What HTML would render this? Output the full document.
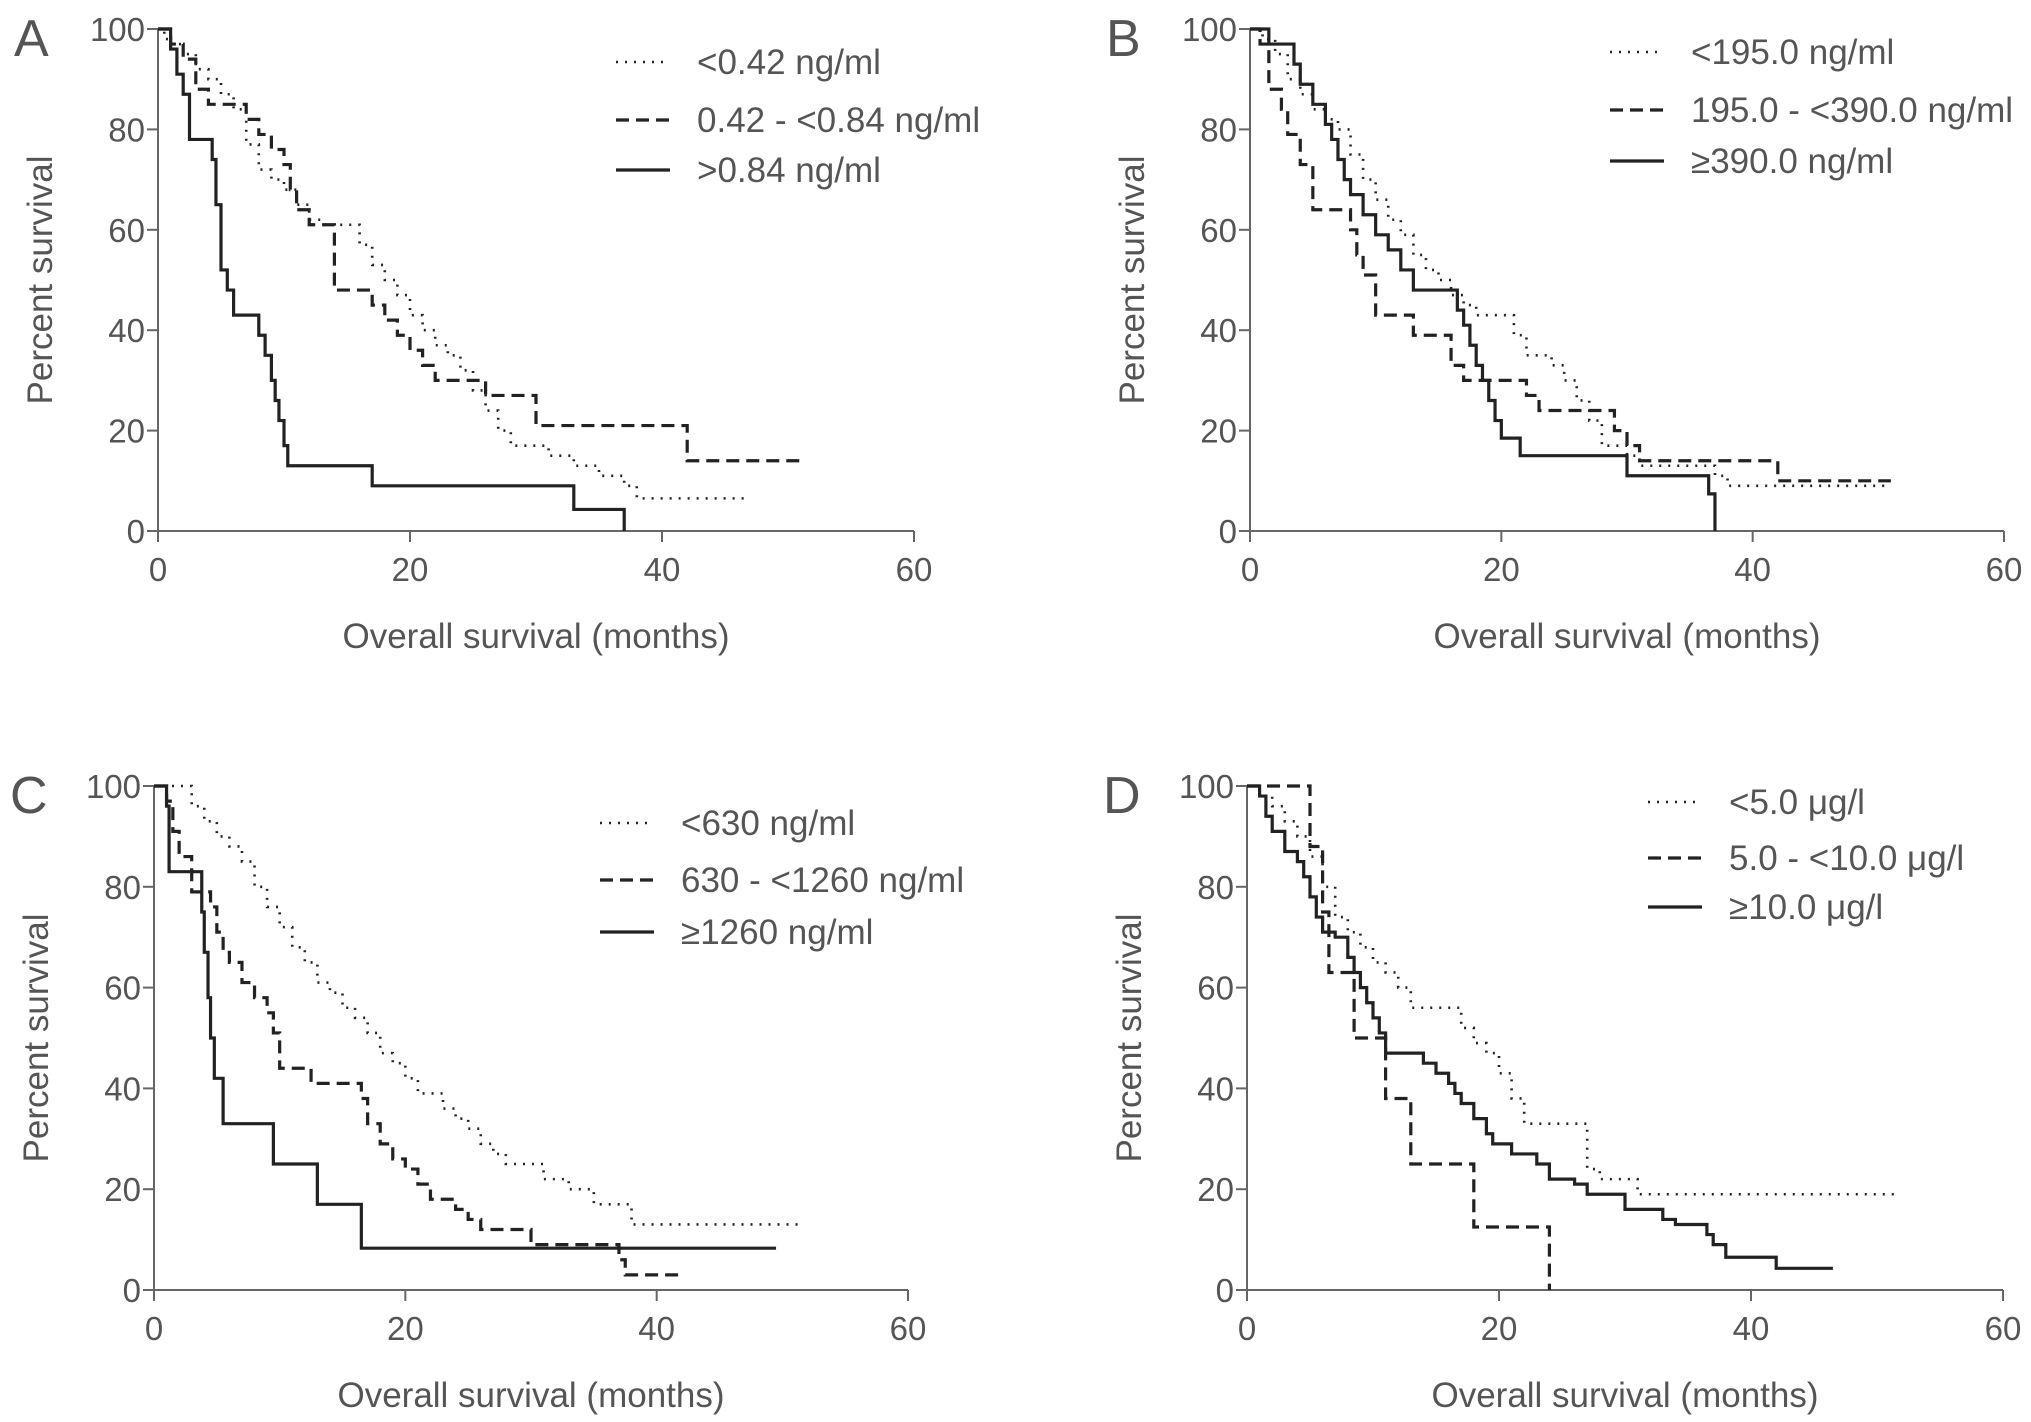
<!DOCTYPE html>
<html><head><meta charset="utf-8"><style>
html,body{margin:0;padding:0;background:#fff}
svg{display:block}
text{font-family:"Liberation Sans",sans-serif;fill:#555}
</style></head><body>
<svg id="fig" width="2031" height="1422" viewBox="0 0 2031 1422" xmlns="http://www.w3.org/2000/svg"></svg>
<script>
const xTicks=[0,20,40,60];
const yTicks=[0,20,40,60,80,100];
// Panel A
const aDotT=[0,0.5,1,2,3,4,5,6,7,8,9,10,11,12,13,15,16,17,18,19,20,21,22,23,24,25,26,27,28,30,31,33,35,37,38,47];
const aDotS=[100,98,97,95,92,90,87,84,77,72,70,68,65,62,61,61,57,53,50,47,43,40,37,35,32,28,24,20,17,17,15,13,11,9,6.5,6.5];
const aDashT=[0,1,2,3,4,6,7,8,9,10,10.5,11,12,14,16,17,18,19,20,21,22,24,26,29,30,42,51];
const aDashS=[100,97,94,88,85,85,82,79,76,73,68,64,61,48,48,45,42,39,36,33,30,30,27,27,21,14,14];
const aSolT=[0,1,1.5,2,2.5,4.3,4.6,5,5.5,6,8,8.5,9,9.3,9.6,10,10.3,17,33,37];
const aSolS=[100,96,91,87,78,74,65,52,48,43,39,35,30,26,22,17,13,9,4.3,0];
// Panel B
const bDotT=[0,1,2,3,4,5,6,7,8,9,10,11,12,13,14,15,16,17,18,20,21,22,24,25,26,27,28,30,31,37,38,51];
const bDotS=[100,98,95,90,87,84,82,80,75,70,66,62,59,55,52,50,47,45,43,43,39,35,33,30,26,22,17,15,13,11,9,9];
const bDashT=[0,0.8,1.5,2.5,3,4,5,8,8.5,9,10,13,16,17,22,23,29,30,31,42,51];
const bDashS=[100,97,88,84,79,73,64,60,55,51,43,39,33,30,27,24,20,17,14,10,10];
const bSolT=[0,1.5,3.5,4,5,6,6.5,7,7.5,8,9,10,11,12,13,16.5,17,17.5,18,18.5,19,19.5,20,21.5,30,36.5,37];
const bSolS=[100,97,93,89,85,81,78,74,70,67,63,59,56,52,48,44,41,37,33,30,26,22,18.5,15,11,7.4,0];
// Panel C
const cDotT=[0,2,3,4,5,6,7,8,9,10,11,12,13,14,15,16,17,18,19,20,21,23,24,25,26,27,28,30,31,33,35,37,38,51.5];
const cDotS=[100,100,96,93,90,88,85,80,76,72,68,65,61,59,56,54,51,47,45,42,39,36,34,32,29,27,25,25,22,20,17,17,13,13];
const cDashT=[0,1,1.5,2,3,4.5,5,5.5,6,7,8,9,9.5,10,12,12.5,16.5,17,18,19,20,21,22,24,25,26,27,30,37,37.5,42];
const cDashS=[100,97,91,86,79,76,71,67,65,61,58,55,51,44,44,41,38,33,29,26,24,21,18,16,14,12,12,9,6,3,3];
const cSolT=[0,1,1.2,3.8,4,4.3,4.5,4.8,5.5,9.5,13,16.5,49.5];
const cSolS=[100,96,83,75,67,58,50,42,33,25,17,8.3,8.3];
// Panel D
const dDotT=[0,1,2,3,4,5,6,7,8,9,10,11,12,13,16,17,18,19,20,21,22,26,27,28,30,31,51.5];
const dDotS=[100,98,96,93,90,86,80,74,71,68,65,63,60,56,56,52,49,47,43,38,33,33,24,22,22,19,19];
const dDashT=[0,5,6,6.5,8.5,11,13,18,24];
const dDashS=[100,88,75,63,50,38,25,12.5,0];
const dSolT=[0,1,1.5,2,3,4,4.5,5,5.5,6,7,8,8.5,9,9.5,10,10.5,11,13,14,15,16,16.5,17,18,19,19.5,21,23,24,26,27,30,32,33,34,36,36.5,37,38,42,46.5];
const dSolS=[100,98,94,91,87,85,82,78,74,71,70,66,63,60,57,54,51,47,47,45,43,41,39,37,34,31,29,27,25,22,21,19,16,16,14,13,13,11,9,6.5,4.3,4.3];

const NS="http://www.w3.org/2000/svg";
const svg=document.getElementById('fig');
function mk(tag,attrs,parent){const e=document.createElementNS(NS,tag);for(const k in attrs)e.setAttribute(k,attrs[k]);(parent||svg).appendChild(e);return e;}
const styles={dot:{w:2.6,d:"2 7"},dash:{w:3.2,d:"13 7"},sol:{w:3.2,d:"none"}};

const panels=[
 {id:'a',letter:'A',x0:158,x1:914,y0:531,y1:29,lx:616,ly:[62,120,170],series:[['dot',aDotT,aDotS,'<0.42 ng/ml'],['dash',aDashT,aDashS,'0.42 - <0.84 ng/ml'],['sol',aSolT,aSolS,'>0.84 ng/ml']]},
 {id:'b',letter:'B',x0:1250,x1:2004,y0:531,y1:29,lx:1610,ly:[52,110,161],series:[['dot',bDotT,bDotS,'<195.0 ng/ml'],['dash',bDashT,bDashS,'195.0 - <390.0 ng/ml'],['sol',bSolT,bSolS,'≥390.0 ng/ml']]},
 {id:'c',letter:'C',x0:154,x1:908,y0:1290,y1:786,lx:600,ly:[823,880,932],series:[['dot',cDotT,cDotS,'<630 ng/ml'],['dash',cDashT,cDashS,'630 - <1260 ng/ml'],['sol',cSolT,cSolS,'≥1260 ng/ml']]},
 {id:'d',letter:'D',x0:1247,x1:2003,y0:1290,y1:786,lx:1648,ly:[802,858,907],series:[['dot',dDotT,dDotS,'<5.0 μg/l'],['dash',dDashT,dDashS,'5.0 - <10.0 μg/l'],['sol',dSolT,dSolS,'≥10.0 μg/l']]}
];

panels.forEach(p=>{
 const g=mk('g',{});
 
 
 const X=t=>p.x0+(p.x1-p.x0)*t/60;
 const Y=s=>p.y0+(p.y1-p.y0)*s/100;
 const ax=mk('path',{d:`M${p.x0},${p.y1} V${p.y0} H${p.x1}`,stroke:'#666','stroke-width':2,fill:'none'},g);
 
 
 xTicks.forEach(v=>{
  const tk=mk('line',{x1:X(v),x2:X(v),y1:p.y0,y2:p.y0+11,stroke:'#666','stroke-width':2},g);
  
  
  const tl=mk('text',{x:X(v),y:p.y0+50,'text-anchor':'middle','font-size':33},g);tl.textContent=v;
  
  
 });
 yTicks.forEach(v=>{
  const tk=mk('line',{x1:p.x0-11,x2:p.x0,y1:Y(v),y2:Y(v),stroke:'#666','stroke-width':2},g);
  
  
  const tl=mk('text',{x:p.x0-13,y:Y(v)+12,'text-anchor':'end','font-size':33},g);tl.textContent=v;
  
  
 });
 const xt=mk('text',{x:(p.x0+p.x1)/2,y:p.y0+117,'text-anchor':'middle','font-size':35},g);
 xt.textContent='Overall survival (months)';
 
 
 const yc=(p.y0+p.y1)/2;
 const yx=p.x0-106;
 const yt=mk('text',{x:yx,y:yc,'text-anchor':'middle','font-size':35,transform:`rotate(-90 ${yx} ${yc})`},g);
 yt.textContent='Percent survival';
 
 
 const lt=mk('text',{x:p.x0-144,y:p.y1+27,'font-size':52,fill:'#222'},g);
 lt.textContent=p.letter;
 
 
 p.series.forEach((s,i)=>{
  const st=styles[s[0]],T=s[1],S=s[2];
  let d=`M${X(T[0])},${Y(S[0])}`;
  for(let k=1;k<T.length;k++){d+=` H${X(T[k])} V${Y(S[k])}`;}
  const path=mk('path',{d:d,stroke:'#222','stroke-width':st.w,fill:'none','stroke-dasharray':st.d},g);
  
  
  const ly=p.ly[i];
  const ll=mk('line',{x1:p.lx,x2:p.lx+54,y1:ly,y2:ly,stroke:'#222','stroke-width':st.w,'stroke-dasharray':st.d},g);
  
  
  const ltx=mk('text',{x:p.lx+81,y:ly+12,'font-size':35},g);
  ltx.textContent=s[3];
  
  
 });
});
</script>
</body></html>
